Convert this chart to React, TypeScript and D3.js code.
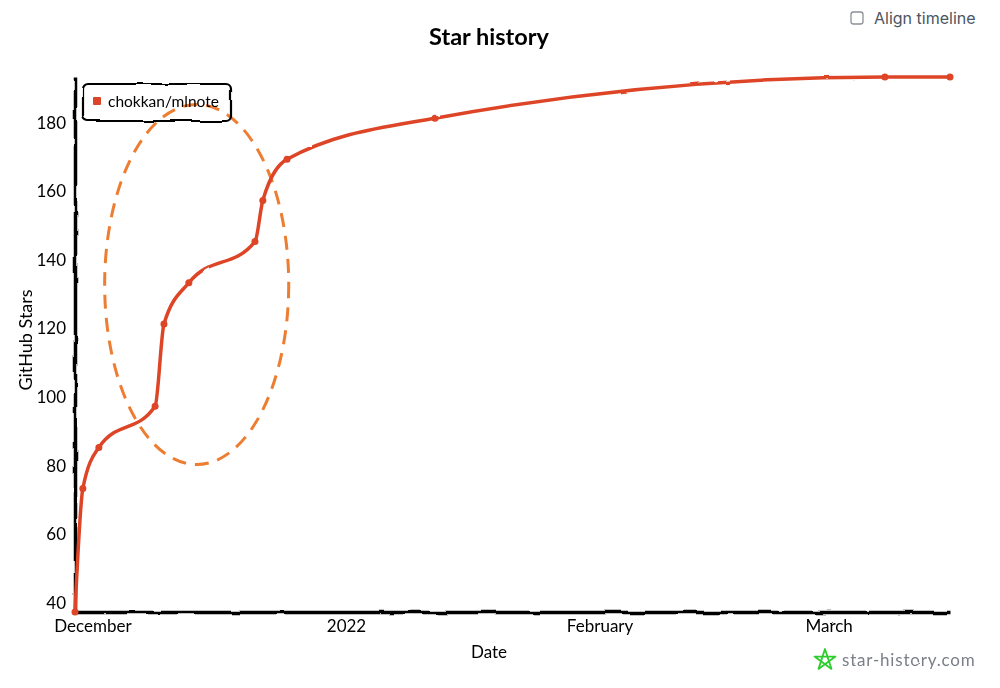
import React, { useEffect, useRef } from 'react';
import * as d3 from 'd3';

const dates = [
  '2021-11-28T21:00', '2021-11-29T20:00', '2021-12-01T19:00', '2021-12-08T16:00',
  '2021-12-09T18:00', '2021-12-12T19:00', '2021-12-20T21:00',
  '2021-12-21T20:00', '2021-12-24T19:00', '2022-01-11T21:00', '2022-03-07T21:00',
  '2022-03-15T20:00',
];
const stars = [37, 73, 85, 97, 121, 133, 145, 157, 169, 181, 193, 193];

const xTickDates = ['2021-12-01T00:00', '2022-01-01T00:00', '2022-02-01T00:00', '2022-03-01T00:00'];
const xTickLabels = ['December', '2022', 'February', 'March'];
const yTicks = [40, 60, 80, 100, 120, 140, 160, 180];

// dashed ellipse drawn on the chart, in data units
const noteDates = ['2021-12-02T12:00', '2021-12-25T00:00'];
const noteStars = [80, 185];

const repoName = 'chokkan/mlnote';
const lineColor = '#dd4528';
const noteColor = '#ed7d31';
const fontFamily = 'Lato, "Noto Sans", sans-serif';

const App: React.FC = () => {
  const svgRef = useRef<SVGSVGElement>(null);

  useEffect(() => {
    if (!svgRef.current) return;

    // Clear previous plot
    d3.select(svgRef.current).selectAll('*').remove();

    const margin = { top: 77, right: 50, bottom: 76, left: 75 };
    const width = 1000 - margin.left - margin.right;
    const height = 688 - margin.top - margin.bottom;

    const svg = d3.select(svgRef.current);

    // Hand drawn wobble, same idea as chart.xkcd
    const addFilter = (id: string, freq: number, scale: number) => {
      const filter = svg.append('filter')
        .attr('id', id)
        .attr('filterUnits', 'userSpaceOnUse')
        .attr('x', -700).attr('y', -700).attr('width', 2400).attr('height', 2100);
      filter.append('feTurbulence')
        .attr('type', 'fractalNoise')
        .attr('baseFrequency', freq)
        .attr('numOctaves', 2)
        .attr('seed', 3)
        .attr('result', 'noise');
      filter.append('feDisplacementMap')
        .attr('in', 'SourceGraphic')
        .attr('in2', 'noise')
        .attr('scale', scale);
    };
    addFilter('wobble', 0.04, 4);
    addFilter('wobbleLine', 0.07, 2);
    addFilter('wobbleText', 0.12, 1.6);

    const g = svg.append('g').attr('transform', `translate(${margin.left},${margin.top})`);

    const parsed = dates.map((d) => new Date(d));
    const x = d3.scaleTime()
      .domain(d3.extent(parsed) as [Date, Date])
      .range([0, width]);
    const y = d3.scaleLinear()
      .domain(d3.extent(stars) as [number, number])
      .range([height, 0]);

    // Axes
    const xAxis = g.append('g')
      .attr('transform', `translate(0,${height})`)
      .call(
        d3.axisBottom(x)
          .tickValues(xTickDates.map((d) => new Date(d)))
          .tickFormat((_, i) => xTickLabels[i])
          .tickSize(0)
          .tickPadding(8),
      );
    const yAxis = g.append('g')
      .call(d3.axisLeft(y).tickValues(yTicks).tickSize(0).tickPadding(9));
    yAxis.selectAll('text').attr('dy', '0.38em');

    [xAxis, yAxis].forEach((axis) => {
      axis.select('.domain')
        .attr('stroke', '#000')
        .attr('stroke-width', 3.5)
        .attr('filter', 'url(#wobble)');
      axis.selectAll('text')
        .attr('filter', 'url(#wobbleText)')
        .style('font-family', fontFamily)
        .style('font-size', '17px')
        .style('fill', '#000');
    });

    // Ellipse annotation
    const noteX = noteDates.map((d) => x(new Date(d)));
    const noteY = noteStars.map((v) => y(v));
    g.append('ellipse')
      .attr('cx', (noteX[0] + noteX[1]) / 2)
      .attr('cy', (noteY[0] + noteY[1]) / 2)
      .attr('rx', (noteX[1] - noteX[0]) / 2)
      .attr('ry', (noteY[0] - noteY[1]) / 2)
      .attr('fill', 'none')
      .attr('stroke', noteColor)
      .attr('stroke-width', 3)
      .attr('stroke-dasharray', '14 9');

    // Star line
    const series = g.append('g').attr('filter', 'url(#wobbleLine)');
    const line = d3.line<Date>()
      .x((d) => x(d))
      .y((_, i) => y(stars[i]))
      .curve(d3.curveMonotoneX);
    series.append('path')
      .datum(parsed)
      .attr('d', line)
      .attr('fill', 'none')
      .attr('stroke', lineColor)
      .attr('stroke-width', 3.5)
      .attr('stroke-linecap', 'round');

    series.selectAll('circle.point')
      .data(parsed)
      .enter()
      .append('circle')
      .attr('class', 'point')
      .attr('cx', (d) => x(d))
      .attr('cy', (_, i) => y(stars[i]))
      .attr('r', 3.5)
      .attr('fill', lineColor);

    // Title and axis labels
    svg.append('text')
      .attr('x', 489).attr('y', 45)
      .attr('text-anchor', 'middle')
      .attr('filter', 'url(#wobbleText)')
      .style('font-family', fontFamily)
      .style('font-size', '23.5px')
      .style('font-weight', 700)
      .text('Star history');
    svg.append('text')
      .attr('x', 489).attr('y', 658)
      .attr('text-anchor', 'middle')
      .attr('filter', 'url(#wobbleText)')
      .style('font-family', fontFamily)
      .style('font-size', '17px')
      .text('Date');
    svg.append('text')
      .attr('transform', 'translate(32,340) rotate(-90)')
      .attr('text-anchor', 'middle')
      .attr('filter', 'url(#wobbleText)')
      .style('font-family', fontFamily)
      .style('font-size', '18px')
      .text('GitHub Stars');

    // Legend
    const legend = svg.append('g').attr('transform', 'translate(83,84)');
    legend.append('rect')
      .attr('width', 148).attr('height', 37).attr('rx', 5)
      .attr('fill', 'none')
      .attr('stroke', '#000').attr('stroke-width', 2.2)
      .attr('filter', 'url(#wobble)');
    legend.append('rect')
      .attr('x', 10).attr('y', 13).attr('width', 8).attr('height', 8).attr('rx', 1)
      .attr('fill', lineColor);
    legend.append('text')
      .attr('x', 25).attr('y', 23)
      .attr('filter', 'url(#wobbleText)')
      .style('font-family', fontFamily)
      .style('font-size', '15.5px')
      .text(repoName);

    // Align timeline checkbox
    svg.append('rect')
      .attr('x', 851).attr('y', 12).attr('width', 12).attr('height', 12).attr('rx', 2.5)
      .attr('fill', '#fff').attr('stroke', '#8b8f96').attr('stroke-width', 1.3);
    svg.append('text')
      .attr('x', 874).attr('y', 24)
      .style('font-family', 'Inter, sans-serif')
      .style('font-size', '16px')
      .style('fill', '#4b5563')
      .text('Align timeline');

    // Watermark, a pentagram drawn point to point
    const star = d3.range(5).map((i) => {
      const a = (i * 4 * Math.PI) / 5;
      return [825 + 11 * Math.sin(a), 660 - 11 * Math.cos(a)] as [number, number];
    });
    svg.append('path')
      .attr('d', d3.line()(star) + 'Z')
      .attr('fill', 'none')
      .attr('stroke', '#2ecc2e')
      .attr('stroke-width', 1.8)
      .attr('stroke-linejoin', 'round')
      .attr('filter', 'url(#wobbleText)');
    svg.append('text')
      .attr('x', 842).attr('y', 666)
      .attr('filter', 'url(#wobbleText)')
      .style('font-family', fontFamily)
      .style('font-size', '17px')
      .style('letter-spacing', '0.8px')
      .style('fill', '#7a7f87')
      .text('star-history.com');
  }, []);

  return (
    <svg
      ref={svgRef}
      width={1000}
      height={688}
      style={{ position: 'absolute', left: 0, top: 0, display: 'block', background: '#fff' }}
    />
  );
};

export default App;
